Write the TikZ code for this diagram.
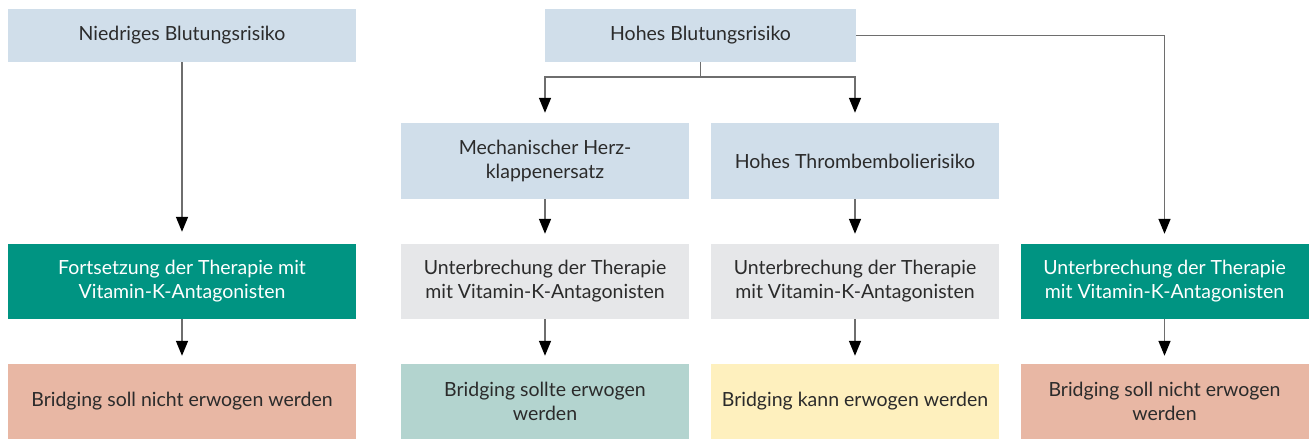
\documentclass[tikz,border=0pt]{standalone}
\usepackage{fontspec}
\setmainfont{Lato}
\usetikzlibrary{arrows.meta}
\definecolor{cblue}{HTML}{D0DEEA}
\definecolor{cgreen}{HTML}{009482}
\definecolor{cgray}{HTML}{E6E7E9}
\definecolor{csalmon}{HTML}{E8B7A4}
\definecolor{cmint}{HTML}{B3D4CF}
\definecolor{cyellow}{HTML}{FEF0BE}
\definecolor{ctext}{HTML}{2B2B2B}
\definecolor{cline}{HTML}{6E6E6E}
\tikzset{
  box/.style={rectangle, inner sep=0pt, align=center, text=ctext,
    font=\fontsize{19.5}{24}\selectfont, minimum width=288pt},
  top/.style={box, minimum height=53pt},
  mid/.style={box, minimum height=76pt},
  low/.style={box, minimum height=75pt},
  arr/.style={draw=cline, line width=1.5pt,
    -{Triangle[length=15pt,width=12pt,color=black]}, shorten >=10pt},
  ln/.style={draw=cline, line width=1.5pt},
}
\begin{document}
\begin{tikzpicture}[x=1pt,y=-1pt]
\useasboundingbox (0,0) rectangle (1315,444);
% row 1
\node[top, fill=cblue, minimum width=348pt] (nb) at (182,35.5) {Niedriges Blutungsrisiko};
\node[top, fill=cblue, minimum width=311pt] (hb) at (700.5,35.5) {Hohes Blutungsrisiko};
% row 2
\node[mid, fill=cblue] (mh) at (545,161) {Mechanischer Herz-\\klappenersatz};
\node[mid, fill=cblue] (ht) at (855,161) {Hohes Thrombembolierisiko};
% row 3
\node[low, fill=cgreen, text=white, minimum width=348pt] (f1) at (182,281.5) {Fortsetzung der Therapie mit\\Vitamin-K-Antagonisten};
\node[low, fill=cgray] (u1) at (545,281.5) {Unterbrechung der Therapie\\mit Vitamin-K-Antagonisten};
\node[low, fill=cgray] (u2) at (855,281.5) {Unterbrechung der Therapie\\mit Vitamin-K-Antagonisten};
\node[low, fill=cgreen, text=white] (f2) at (1164.5,281.5) {Unterbrechung der Therapie\\mit Vitamin-K-Antagonisten};
% row 4
\node[low, fill=csalmon, minimum width=348pt] (b1) at (182,401.5) {Bridging soll nicht erwogen werden};
\node[low, fill=cmint] (b2) at (545,401.5) {Bridging sollte erwogen\\werden};
\node[low, fill=cyellow] (b3) at (855,401.5) {Bridging kann erwogen werden};
\node[low, fill=csalmon] (b4) at (1164.5,401.5) {Bridging soll nicht erwogen\\werden};
% connectors
\draw[arr, shorten >=12pt] (nb.south) -- (f1.north);
\draw[ln] (hb.south) -- ++(0,15) coordinate (j);
\draw[arr] (j) -| (mh.north);
\draw[arr] (j) -| (ht.north);
\draw[arr] (hb.east) -| (f2.north);
\draw[arr] (ht.south) -- (u2.north);
\draw[arr] (mh.south) -- (u1.north);
\draw[arr, shorten >=8pt] (f1.south) -- (b1.north);
\draw[arr, shorten >=8pt] (u1.south) -- (b2.north);
\draw[arr, shorten >=8pt] (u2.south) -- (b3.north);
\draw[arr, shorten >=8pt] (f2.south) -- (b4.north);
\end{tikzpicture}
\end{document}
